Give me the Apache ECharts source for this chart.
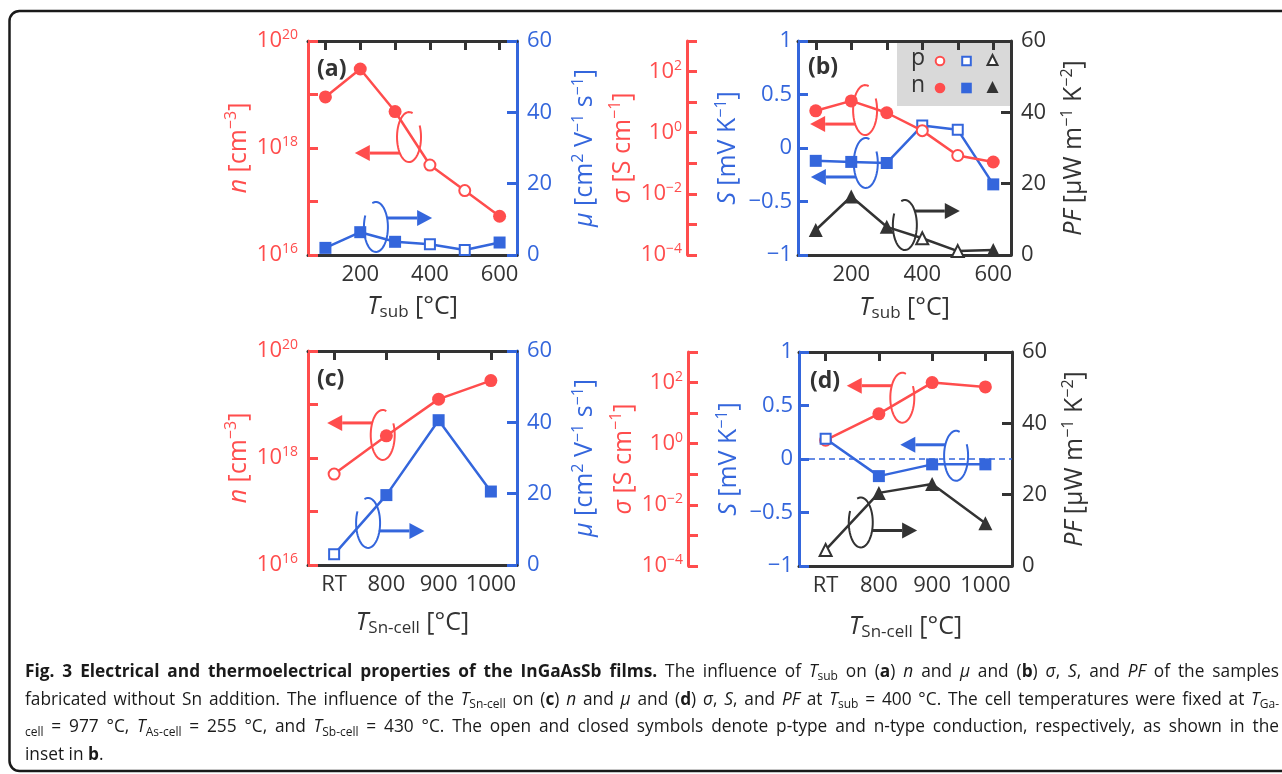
<!DOCTYPE html>
<html><head><meta charset="utf-8">
<script src="https://cdn.jsdelivr.net/npm/echarts@6/dist/echarts.min.js"></script>
<style>html,body{margin:0;padding:0;background:#fff}#c{width:1282px;height:774px}</style>
</head><body><div id="c"></div>
<script>
// ---------------- data ----------------
const tSub = [100, 200, 300, 400, 500, 600];
const tSubLabels = [200, 400, 600];
const typeSub = ['n', 'n', 'n', 'p', 'p', 'n'];          // conduction type per sample (a,b)
const nA = [9.0e18, 3.0e19, 4.8e18, 4.8e17, 1.6e17, 5.3e16];   // cm^-3
const muA = [2.0, 6.4, 3.7, 3.0, 1.4, 3.5];                     // cm2/Vs
const sigmaB = [5.2, 11, 4.5, 1.17, 0.18, 0.11];                // S/cm
const sB = [-0.12, -0.13, -0.14, 0.21, 0.17, -0.34];            // mV/K
const pfB = [7.0, 16.4, 7.9, 4.7, 1.1, 1.4];                    // uW m-1 K-2

const tSnCats = ['RT', '800', '900', '1000'];
const typeSn = ['p', 'n', 'n', 'n'];
const nC = [5.0e17, 2.6e18, 1.26e19, 2.8e19];
const muC = [3.0, 19.6, 40.6, 20.6];
const sigmaD = [1.3, 9.5, 100, 72];
const sD = [0.19, -0.16, -0.05, -0.05];
const pfD = [4.5, 20.5, 23.0, 12.0];

// annotation anchors (ellipse centres) in axis units
const annotations = [
  {xi: 0, yi: 0, at: [340, 1.6e18], dir: -1, dy: 16, c: 'r'},
  {xi: 0, yi: 1, at: [245, 7.85], dir: 1, dy: -9, c: 'b'},
  {xi: 2, yi: 3, at: [239, 5.5], dir: -1, dy: 14, c: 'r'},
  {xi: 2, yi: 2, at: [241, -0.14], dir: -1, dy: 14, c: 'b'},
  {xi: 2, yi: 4, at: [351, 8.4], dir: 1, dy: -14, c: 'k'},
  {xi: 4, yi: 5, at: [0.93, 2.7e18], dir: -1, dy: -12, c: 'r'},
  {xi: 4, yi: 6, at: [0.65, 11.8], dir: 1, dy: 8, c: 'b'},
  {xi: 6, yi: 8, at: [1.44, 32], dir: -1, dy: -12, c: 'r'},
  {xi: 6, yi: 7, at: [2.45, 0.03], dir: -1, dy: -11, c: 'b'},
  {xi: 6, yi: 9, at: [0.66, 12.2], dir: 1, dy: 8, c: 'k'}
];

// ---------------- style ----------------
const RED = '#ff4d4d', BLUE = '#3466dc', DARK = '#333333';
const COL = {r: RED, b: BLUE, k: DARK};
const FONT = 'Open Sans';
const FS = 22;      // tick labels
const NFS = 25;     // axis names

const supRich = (color, fs) => ({
  b: {fontSize: fs, fontFamily: FONT, color, lineHeight: fs + 4},
  i: {fontSize: fs, fontFamily: FONT, color, fontStyle: 'italic', lineHeight: fs + 4},
  s: {fontSize: Math.round(fs * 0.64), fontFamily: FONT, color, verticalAlign: 'top', lineHeight: 16},
  u: {fontSize: Math.round(fs * 0.68), fontFamily: FONT, color, verticalAlign: 'bottom', lineHeight: 17}
});
const nameStyle = (color) => ({color, fontSize: NFS, fontFamily: FONT, lineHeight: NFS + 4, rich: supRich(color, NFS)});

const grids = [
  {left: 308, top: 41, width: 209, height: 214},
  {left: 798, top: 41, width: 213, height: 214},
  {left: 308, top: 351, width: 209, height: 214},
  {left: 799, top: 352, width: 213, height: 214}
].map(g => Object.assign(g, {outerBoundsMode: 'none', containLabel: false}));

function xPair(gi, min, max, ticks, labels, fmt, name, nameGap) {
  return [
    {gridIndex: gi, type: 'value', position: 'bottom', min, max,
     axisLine: {show: true, onZero: false, lineStyle: {color: DARK, width: 3}},
     axisTick: {show: false}, splitLine: {show: false},
     axisLabel: {customValues: labels, formatter: fmt, color: DARK, fontSize: FS, fontFamily: FONT, margin: 9},
     name, nameLocation: 'middle', nameGap, nameTextStyle: nameStyle(DARK)},
    {gridIndex: gi, type: 'value', position: 'top', min, max,
     axisLine: {show: true, onZero: false, lineStyle: {color: DARK, width: 3}},
     axisTick: {show: true, inside: true, length: 9, customValues: ticks, lineStyle: {color: DARK, width: 3}},
     axisLabel: {show: false}, splitLine: {show: false}}
  ];
}

const sup = (e) => '{b|10}{s|' + (e < 0 ? '\u2212' + (-e) : e) + '}';
const logFmt = (v) => { const e = Math.round(Math.log10(v)); return (e % 2 === 0) ? sup(e) : ''; };

function yLog(gi, min, max, split, pos, offset, name, nameGap) {
  return {gridIndex: gi, type: 'log', logBase: 10, min, max, splitNumber: split, position: pos, offset,
    axisLine: {show: true, onZero: false, lineStyle: {color: RED, width: 3}},
    axisTick: {show: true, inside: true, length: 10, lineStyle: {color: RED, width: 3}},
    minorTick: {show: false}, splitLine: {show: false},
    axisLabel: {formatter: logFmt, margin: offset ? 5 : 10, rich: supRich(RED, FS), color: RED, fontFamily: FONT},
    name, nameLocation: 'middle', nameGap, nameTextStyle: nameStyle(RED)};
}
function yLin(gi, min, max, interval, pos, color, name, nameGap, extra) {
  return Object.assign({gridIndex: gi, type: 'value', min, max, interval, position: pos,
    axisLine: {show: true, onZero: false, lineStyle: {color, width: 3}},
    axisTick: {show: true, inside: true, length: 10, lineStyle: {color, width: 3}},
    splitLine: {show: false},
    axisLabel: {color, fontSize: FS, fontFamily: FONT, margin: 10,
      formatter: v => String(v).replace('-', '\u2212')},
    name, nameLocation: 'middle', nameGap, nameTextStyle: nameStyle(color)}, extra || {});
}

const xAxes = [].concat(
  xPair(0, 50, 650, tSub, tSubLabels, null, '{i|T}{u|sub} [°C]', 37),
  xPair(1, 50, 650, tSub, tSubLabels, null, '{i|T}{u|sub} [°C]', 38),
  xPair(2, -0.5, 3.5, [0, 1, 2, 3], [0, 1, 2, 3], v => tSnCats[Math.round(v)], '{i|T}{u|Sn-cell} [°C]', 43),
  xPair(3, -0.5, 3.5, [0, 1, 2, 3], [0, 1, 2, 3], v => tSnCats[Math.round(v)], '{i|T}{u|Sn-cell} [°C]', 46)
);
const sLabel = {axisLabel: {color: BLUE, fontSize: FS, fontFamily: FONT, margin: 6, padding: [0, 0, 10, 0],
  formatter: v => String(v).replace('-', '\u2212')}};
const yAxes = [
  yLog(0, 1e16, 1e20, 4, 'left', 0, '{i|n} [cm{s|\u22123}]', 36),
  yLin(0, 0, 60, 20, 'right', BLUE, '{i|μ} [cm{s|2} V{s|\u22121} s{s|\u22121}]', 53),
  yLin(1, -1, 1, 0.5, 'left', BLUE, '{i|S} [mV K{s|\u22121}]', 56, sLabel),
  yLog(1, 1e-4, 1e3, 7, 'left', 111, '{i|σ} [S cm{s|\u22121}]', 44),
  yLin(1, 0, 60, 20, 'right', DARK, '{i|PF} [μW m{s|\u22121} K{s|\u22122}]', 48),
  yLog(2, 1e16, 1e20, 4, 'left', 0, '{i|n} [cm{s|\u22123}]', 36),
  yLin(2, 0, 60, 20, 'right', BLUE, '{i|μ} [cm{s|2} V{s|\u22121} s{s|\u22121}]', 53),
  yLin(3, -1, 1, 0.5, 'left', BLUE, '{i|S} [mV K{s|\u22121}]', 56, sLabel),
  yLog(3, 1e-4, 1e3, 7, 'left', 111, '{i|σ} [S cm{s|\u22121}]', 44),
  yLin(3, 0, 60, 20, 'right', DARK, '{i|PF} [μW m{s|\u22121} K{s|\u22122}]', 48)
];

const SYM = {circle: 13, rect: 12, triangle: 14};
function pts(xs, ys, types, color, symbol) {
  return xs.map((x, i) => {
    const open = types[i] === 'p';
    return {value: [x, ys[i]], symbol, symbolSize: open ? SYM[symbol] - 2 : SYM[symbol],
      itemStyle: open ? {color: '#ffffff', borderColor: color, borderWidth: 2}
                      : {color, borderColor: color, borderWidth: 0}};
  });
}
function line(xi, yi, data, color, z, extra) {
  return Object.assign({type: 'line', xAxisIndex: xi, yAxisIndex: yi, data, z,
    lineStyle: {color, width: 2.5}, itemStyle: {color}, showSymbol: true, showAllSymbol: true,
    emphasis: {disabled: true}, silent: true}, extra || {});
}
const idx = tSnCats.map((c, i) => i);

function annoSeries(a) {
  const color = COL[a.c];
  return {type: 'custom', coordinateSystem: 'cartesian2d', xAxisIndex: a.xi, yAxisIndex: a.yi,
    data: [a.at], z: 6, silent: true,
    renderItem: (params, api) => {
      const c = api.coord([api.value(0), api.value(1)]);
      const rx = 12, ry = 25, L = 45, head = 15, hw = 8;
      const gapC = a.dir < 0 ? -50 : 230, gap = 45;
      const a0 = (gapC + gap / 2) * Math.PI / 180, a1 = (gapC + 360 - gap / 2) * Math.PI / 180;
      const arc = [];
      for (let k = 0; k <= 48; k++) {
        const t = a0 + (a1 - a0) * k / 48;
        arc.push([c[0] + rx * Math.cos(t), c[1] + ry * Math.sin(t)]);
      }
      const y0 = c[1] + a.dy;
      const x0 = c[0] + a.dir * rx * Math.sqrt(Math.max(0, 1 - (a.dy / ry) ** 2));
      const xTip = x0 + a.dir * L, x1 = xTip - a.dir * head;
      return {type: 'group', children: [
        {type: 'polyline', shape: {points: arc}, style: {stroke: color, lineWidth: 2, fill: null}},
        {type: 'line', shape: {x1: x0, y1: y0, x2: x1, y2: y0}, style: {stroke: color, lineWidth: 3}},
        {type: 'polygon', shape: {points: [[x1, y0 - hw], [x1, y0 + hw], [xTip, y0]]}, style: {fill: color}}
      ]};
    }};
}

const series = [
  // (a)
  line(0, 1, pts(tSub, muA, typeSub, BLUE, 'rect'), BLUE, 3),
  line(0, 0, pts(tSub, nA, typeSub, RED, 'circle'), RED, 4),
  // (b)
  line(2, 4, pts(tSub, pfB, typeSub, DARK, 'triangle'), DARK, 2),
  line(2, 2, pts(tSub, sB, typeSub, BLUE, 'rect'), BLUE, 3),
  line(2, 3, pts(tSub, sigmaB, typeSub, RED, 'circle'), RED, 4),
  // (c)
  line(4, 5, pts(idx, nC, typeSn, RED, 'circle'), RED, 3),
  line(4, 6, pts(idx, muC, typeSn, BLUE, 'rect'), BLUE, 4),
  // (d)
  line(6, 8, pts(idx, sigmaD, typeSn, RED, 'circle'), RED, 2),
  line(6, 7, pts(idx, sD, typeSn, BLUE, 'rect'), BLUE, 3, {
    markLine: {silent: true, symbol: ['none', 'none'], label: {show: false},
      lineStyle: {color: BLUE, type: [6, 4], width: 1.5}, data: [{yAxis: 0}]}}),
  line(6, 9, pts(idx, pfD, typeSn, DARK, 'triangle'), DARK, 4)
].concat(annotations.map(annoSeries));

// ---------------- caption (justified like the original) ----------------
const CF = 17.3, CFS = 12, CAP_X = 25, CAP_W = 1254;
const tok = (o) => Object.assign({fontSize: CF, fontFamily: FONT, fill: '#1a1a1a', fontStyle: 'normal', fontWeight: 'normal'}, o);
const capStyles = {
  r: tok({}),
  b: tok({fontWeight: 'bold'}),
  i: tok({fontStyle: 'italic'}),
  s: tok({fontSize: CFS, verticalAlign: 'bottom', lineHeight: 18})
};
const captionLines = [
  '{b|Fig. 3 Electrical and thermoelectrical properties of the InGaAsSb films.} The influence of {i|T}{s|sub} on ({b|a}) {i|n} and {i|μ} and ({b|b}) {i|σ}, {i|S}, and {i|PF} of the samples',
  'fabricated without Sn addition. The influence of the {i|T}{s|Sn-cell} on ({b|c}) {i|n} and {i|μ} and ({b|d}) {i|σ}, {i|S}, and {i|PF} at {i|T}{s|sub} = 400 °C. The cell temperatures were fixed at {i|T}{s|Ga-}',
  '{s|cell} = 977 °C, {i|T}{s|As-cell} = 255 °C, and {i|T}{s|Sb-cell} = 430 °C. The open and closed symbols denote p-type and n-type conduction, respectively, as shown in the',
  'inset in {b|b}.'
];
const captionY = [672, 700, 727.5, 755];
const mctx = document.createElement('canvas').getContext('2d');
function measure(st, txt) {
  const s = capStyles[st];
  mctx.font = s.fontStyle + ' ' + s.fontWeight + ' ' + s.fontSize + 'px ' + FONT;
  return mctx.measureText(txt).width;
}
function justifyLine(line, doJustify) {
  const re = /\{(\w+)\|([^}]*)\}|([^{]+)/g; let m; const out = []; let wW = 0, nSp = 0;
  while ((m = re.exec(line))) {
    const st = m[1] || 'r', tx = m[1] ? m[2] : m[3];
    tx.split(' ').forEach((p, k) => {
      if (k > 0) { out.push(null); nSp++; }
      if (p) { out.push([st, p]); wW += measure(st, p); }
    });
  }
  const spW = doJustify && nSp ? (CAP_W - wW) / nSp : measure('r', ' ');
  const text = out.map(o => o ? '{' + o[0] + '|' + o[1] + '}' : '{w| }').join('');
  return {text, spW};
}
const caption = captionLines.map((t, k) => {
  const j = justifyLine(t, k < captionLines.length - 1);
  const rich = Object.assign({}, capStyles, {w: tok({width: j.spW})});
  return {type: 'text', x: CAP_X, y: captionY[k], z: 10,
    style: {text: j.text, fontSize: CF, fontFamily: FONT, fill: '#1a1a1a', verticalAlign: 'middle', align: 'left',
      lineHeight: 22, rich}};
});

// ---------------- graphics: panel tags, inset legend, frame ----------------
const tag = (t, x, y) => ({type: 'text', x, y, style: {text: t, fill: DARK, fontSize: 23, fontWeight: 'bold',
  fontFamily: FONT, verticalAlign: 'middle', align: 'left'}});
const lg = (x, y, shape, color, open) => {
  const st = open ? {fill: '#fff', stroke: color, lineWidth: 2} : {fill: color, stroke: color, lineWidth: 0};
  if (shape === 'c') return {type: 'circle', shape: {cx: x, cy: y, r: open ? 4.3 : 5.3}, style: st, z: 5};
  if (shape === 's') return {type: 'rect', shape: open ? {x: x - 4.3, y: y - 4.3, width: 8.6, height: 8.6} : {x: x - 5.3, y: y - 5.3, width: 10.6, height: 10.6}, style: st, z: 5};
  const h = open ? 5 : 6;
  return {type: 'polygon', shape: {points: [[x, y - h - 1], [x + h, y + h - 1], [x - h, y + h - 1]]}, style: st, z: 5};
};
const legendText = (t, y) => ({type: 'text', x: 918, y, z: 5, style: {text: t, fill: DARK, fontSize: 23,
  fontFamily: FONT, align: 'center', verticalAlign: 'middle'}});

const graphic = [
  {type: 'rect', shape: {x: 9.5, y: 11, width: 1300, height: 760, r: 10}, style: {fill: null, stroke: '#1a1a1a', lineWidth: 2.5}, z: -20},
  {type: 'rect', shape: {x: 897, y: 43, width: 113, height: 63}, style: {fill: '#d9d9d9'}, z: -5},
  legendText('p', 58), legendText('n', 85),
  lg(940, 61, 'c', RED, true), lg(966.5, 61, 's', BLUE, true), lg(992.5, 61, 't', DARK, true),
  lg(940, 88, 'c', RED, false), lg(966.5, 88, 's', BLUE, false), lg(992.5, 88, 't', DARK, false),
  tag('(a)', 317, 69), tag('(b)', 808, 67), tag('(c)', 317, 379), tag('(d)', 810, 381)
].concat(caption);

const chart = echarts.init(document.getElementById('c'), null, {renderer: 'canvas'});
chart.setOption({
  animation: false,
  backgroundColor: '#ffffff',
  textStyle: {fontFamily: FONT},
  grid: grids,
  xAxis: xAxes,
  yAxis: yAxes,
  series,
  graphic
});
</script></body></html>
